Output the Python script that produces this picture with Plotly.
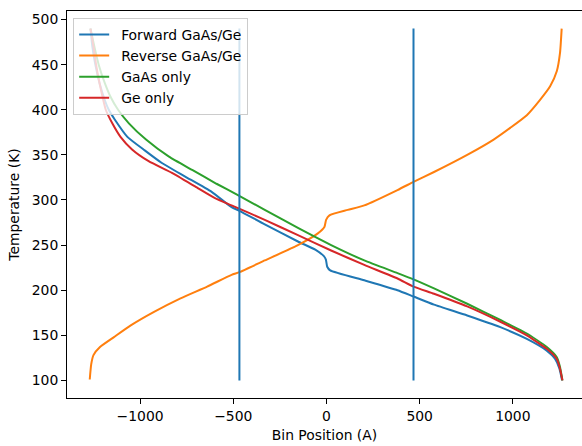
import plotly.graph_objects as go

# ---- data ----
fwd_x = [-1266, -1256, -1240, -1218, -1188, -1168, -1135, -1068, -975, -883, -758, -616, -509, -467,
         -331, -153, -60, -15, -3, 4, 20, 203, 381, 467, 577, 755, 933, 1075, 1182, 1226, 1250, 1264]
fwd_T = [490, 470, 450, 430, 410, 400, 389, 370, 355, 341, 326, 309, 292, 288,
         273, 254, 245, 238, 234, 226, 222, 211, 200, 193, 184, 172, 159, 146, 133, 124, 113, 100]

rev_x = [-1270, -1262, -1250, -1215, -1140, -1050, -925, -783, -640, -509, -467, -331, -153, -46,
         -11, -2, 16, 114, 203, 381, 467, 577, 755, 897, 986, 1075, 1146, 1200, 1236, 1253, 1262]
rev_T = [101, 118, 128, 137, 148, 161, 176, 191, 204, 217, 220, 233, 250, 263,
         270, 278, 283, 289, 294, 311, 320, 331, 350, 367, 380, 394, 411, 426, 443, 463, 490]

gaas_x = [-1266, -1245, -1222, -1190, -1160, -1118, -1060, -968, -845, -718, -590, -480, -331, -153,
          25, 203, 381, 467, 577, 755, 933, 1075, 1182, 1235, 1253, 1266]
gaas_T = [490, 470, 450, 430, 415, 400, 385, 367, 348, 333, 318, 306, 289, 269,
          250, 233, 219, 212, 202, 185, 167, 152, 137, 126, 115, 100]

ge_x = [-1266, -1250, -1236, -1218, -1202, -1184, -1149, -1105, -1043, -954, -829, -705, -598, -509,
        -331, -153, 25, 203, 381, 467, 577, 755, 933, 1075, 1182, 1235, 1253, 1266]
ge_T = [490, 470, 450, 430, 415, 400, 385, 370, 356, 343, 330, 315, 302, 294,
        278, 261, 244, 228, 213, 204, 196, 182, 165, 150, 135, 124, 113, 100]

vline_pos = [-467, 467]
vline_T = [100, 490]

series_names = ["Forward GaAs/Ge", "Reverse GaAs/Ge", "GaAs only", "Ge only"]
colors = ["#1f77b4", "#ff7f0e", "#2ca02c", "#d62728"]

FONT = "DejaVu Sans"
FS = 13.9

fig = go.Figure()
for i, (xs, ts) in enumerate([(fwd_x, fwd_T), (rev_x, rev_T), (gaas_x, gaas_T), (ge_x, ge_T)]):
    fig.add_trace(go.Scatter(x=xs, y=ts, mode="lines", name="\u2002" + series_names[i],
                             line=dict(color=colors[i], width=2, shape="spline", smoothing=0.5),
                             legendgroup=f"g{i}"))
for xv in vline_pos:
    fig.add_trace(go.Scatter(x=[xv, xv], y=vline_T, mode="lines", showlegend=False,
                             line=dict(color=colors[0], width=2)))

axis_common = dict(showgrid=False, zeroline=False, showline=True, linecolor="black", linewidth=1,
                   ticks="outside", ticklen=5, tickwidth=1, tickcolor="black", automargin=False,
                   tickfont=dict(family=FONT, size=FS, color="black"))

fig.update_layout(
    width=582, height=446,
    margin=dict(l=67, r=0, t=11, b=48),
    paper_bgcolor="white", plot_bgcolor="white",
    font=dict(family=FONT, size=FS, color="black"),
    xaxis=dict(range=[-1392, 1371], tickvals=[-1000, -500, 0, 500, 1000], mirror=True,
               title=dict(text="Bin Position (A)", font=dict(family=FONT, size=FS), standoff=7),
               **axis_common),
    yaxis=dict(range=[80.5, 509.5], tickvals=[100, 150, 200, 250, 300, 350, 400, 450, 500],
               title=dict(text="Temperature (K)", font=dict(family=FONT, size=FS), standoff=8),
               **axis_common),
    legend=dict(x=0.012, y=0.982, xanchor="left", yanchor="top",
                bgcolor="rgba(255,255,255,0.8)", bordercolor="#cccccc", borderwidth=1,
                font=dict(family=FONT, size=FS), itemwidth=30, tracegroupgap=0),
    showlegend=True,
)

fig.write_html("out.html", post_script="document.body.style.margin='0';",
               config={"displayModeBar": False})
